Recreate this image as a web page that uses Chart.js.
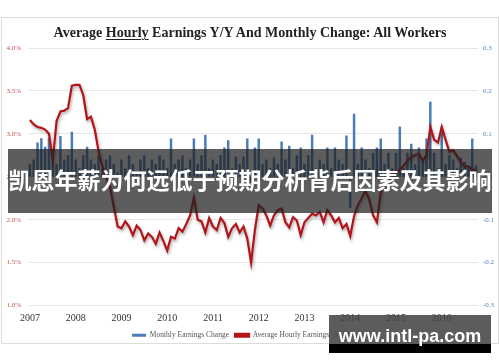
<!DOCTYPE html>
<html>
<head>
<meta charset="utf-8">
<script src="https://cdn.jsdelivr.net/npm/chart.js@4.4.1/dist/chart.umd.min.js"></script>
<style>
  body { margin: 0; background: #fff; }
  #wrap { position: relative; width: 500px; height: 362px; overflow: hidden; }
  #frame { position: absolute; left: 1px; top: 17px; width: 496px; height: 325px; border: 1px solid #dcdcdc; }
  #title { position: absolute; left: 0; top: 25px; width: 500px; text-align: center;
           font: bold 14px "Liberation Serif", serif; color: #222; }
  #title u { text-decoration-thickness: 1px; text-underline-offset: 2px; }
  #banner { position: absolute; left: 8px; top: 149px; width: 484px; height: 64px; background: rgba(30,30,30,0.72); }
  #bannerText { position: absolute; left: 0; top: 162px; width: 500px; text-align: center;
                font: bold 23px "Noto Sans CJK SC", sans-serif; color: #fff; white-space: nowrap; line-height: 34px; }
  #mark { position: absolute; left: 329px; top: 315px; width: 162px; height: 38px; background: rgba(70,70,70,0.88); }
  #markBottom { position: absolute; left: 329px; top: 344px; width: 162px; height: 9px; background: #000; }
  #markText { position: absolute; left: 329px; top: 317px; width: 162px; height: 38px; text-align: center; white-space: nowrap;
              font: bold 18px "Liberation Sans", sans-serif; color: #fff; line-height: 38px; }
  canvas { position: absolute; left: 0; top: 0; }
</style>
</head>
<body>
<div id="wrap">
  <div id="frame"></div>
  <canvas id="earningsChart" width="500" height="362"></canvas>
  <div id="title">Average <u>Hourly</u> Earnings Y/Y And Monthly Change: All Workers</div>
  <div id="banner"></div>
  <div id="bannerText">凯恩年薪为何远低于预期分析背后因素及其影响</div>
  <div id="mark"></div>
  <div id="markBottom"></div>
  <div id="markText">www.intl-pa.com</div>
</div>
<script>
// Years on the axis, months per year
const years = [2007, 2008, 2009, 2010, 2011, 2012, 2013, 2014, 2015, 2016];
const monthNames = ['Jan', 'Feb', 'Mar', 'Apr', 'May', 'Jun', 'Jul', 'Aug', 'Sep', 'Oct', 'Nov', 'Dec'];

// Monthly Earnings Change (right axis, $)
const monthlyChange = [
  0.03, 0.04, 0.08, 0.09, 0.07, 0.09, 0.06, 0.03, 0.095, 0.04, 0.05, 0.105,   // 2007
  0.04, 0.02, 0.05, 0.07, 0.04, 0.03, 0.05, 0.02, 0.04, 0.05, 0.03, 0.01,     // 2008
  0.04, 0.02, 0.05, 0.03, 0.01, 0.04, 0.05, 0.02, 0.04, 0.03, 0.05, 0.04,     // 2009
  0.02, 0.089, 0.03, 0.04, 0.05, 0.02, 0.04, 0.089, 0.03, 0.05, 0.098, 0.02,  // 2010
  0.04, 0.03, 0.05, 0.068, 0.085, 0.02, 0.047, 0.03, 0.047, 0.089, -0.02, 0.068, // 2011
  0.089, 0.03, 0.04, 0.02, 0.045, 0.03, 0.082, 0.04, 0.072, 0.02, 0.05, 0.068,  // 2012
  0.03, 0.05, 0.098, 0.02, 0.04, 0.03, 0.068, 0.02, 0.068, 0.04, 0.03, 0.096,   // 2013
  -0.072, 0.147, 0.03, 0.068, 0.04, 0.02, 0.056, 0.068, 0.089, 0.03, 0.056, 0.02, // 2014
  0.056, 0.117, 0.02, 0.056, 0.077, 0.03, 0.068, 0.04, 0.089, 0.175, 0.056, 0.02, // 2015
  0.117, 0.03, 0.05, 0.04, 0.02, 0.045, 0.035, 0.02, 0.089, 0.026                 // 2016
];

// Average Hourly Earnings Y/Y (left axis, %)
const hourlyYoY = [
  3.16, 3.11, 3.08, 3.07, 3.05, 3.00, 2.70, 3.15, 3.26, 3.27, 3.30, 3.56,   // 2007
  3.57, 3.57, 3.45, 3.17, 3.20, 3.05, 2.80, 2.62, 2.50, 2.38, 2.15, 1.92,   // 2008
  1.90, 1.98, 1.92, 1.82, 1.93, 1.88, 1.76, 1.84, 1.80, 1.72, 1.85, 1.75,   // 2009
  1.64, 1.80, 1.78, 1.90, 1.86, 1.95, 2.05, 2.26, 2.00, 1.98, 1.85, 2.02,   // 2010
  1.92, 1.88, 2.02, 1.96, 1.80, 1.90, 1.95, 1.85, 1.92, 1.78, 1.50, 1.88,   // 2011
  2.17, 2.13, 2.05, 1.93, 2.05, 2.11, 2.13, 1.97, 1.91, 2.03, 1.99, 1.82,   // 2012
  1.97, 2.02, 2.07, 2.05, 2.09, 1.97, 2.11, 2.05, 1.97, 2.02, 1.90, 1.95,   // 2013
  1.81, 2.04, 2.17, 2.25, 2.34, 2.23, 2.05, 1.97, 2.32, 2.46, 2.44, 2.48,   // 2014
  2.55, 2.58, 2.63, 2.69, 2.73, 2.75, 2.77, 2.69, 2.75, 3.08, 2.93, 2.90,   // 2015
  3.08, 2.93, 2.79, 2.81, 2.74, 2.67, 2.62, 2.62, 2.58, 2.58                // 2016
];

// Month labels built from the years list
const labels = [];
years.forEach(function(y) {
  monthNames.forEach(function(m) { labels.push(m + ' ' + y); });
});
labels.length = hourlyYoY.length;

// Soft drop shadow under the red line
const lineShadow = {
  id: 'lineShadow',
  beforeDatasetDraw(chart, args) {
    if (args.meta.type === 'line') {
      const c = chart.ctx;
      c.save();
      c.shadowColor = 'rgba(0,0,0,0.35)';
      c.shadowBlur = 3;
      c.shadowOffsetX = 1;
      c.shadowOffsetY = 2;
    }
  },
  afterDatasetDraw(chart, args) {
    if (args.meta.type === 'line') chart.ctx.restore();
  }
};

const ctx = document.getElementById('earningsChart').getContext('2d');
const earningsChart = new Chart(ctx, {
  data: {
    labels: labels,
    datasets: [{
      type: 'bar',
      label: 'Monthly Earnings Change',
      data: monthlyChange,
      yAxisID: 'y1',
      backgroundColor: '#4a7db6',
      borderWidth: 0,
      barPercentage: 0.65,
      categoryPercentage: 1,
      order: 2
    }, {
      type: 'line',
      label: 'Average Hourly Earnings: All Workers',
      data: hourlyYoY,
      yAxisID: 'y',
      borderColor: '#b3141a',
      backgroundColor: '#b3141a',
      borderWidth: 2.2,
      pointRadius: 0,
      tension: 0,
      order: 1
    }]
  },
  options: {
    responsive: false,
    animation: false,
    layout: { padding: { top: 48, left: 2, right: 0, bottom: 13 } },
    plugins: {
      legend: {
        position: 'bottom',
        labels: {
          boxWidth: 14,
          boxHeight: 3,
          padding: 6,
          color: '#555',
          font: { family: 'Liberation Serif', size: 7.5 },
          sort: (a, b) => a.datasetIndex - b.datasetIndex
        }
      },
      tooltip: { enabled: false }
    },
    scales: {
      x: {
        grid: { display: false, drawTicks: false },
        border: { display: false },
        ticks: {
          autoSkip: false,
          maxRotation: 0,
          padding: 7,
          color: '#333',
          font: { family: 'Liberation Serif', size: 10 },
          callback: function(v, i) { return i % 12 === 0 ? labels[i].slice(4) : ''; }
        },
        afterFit: function(s) { s.height = 20; }
      },
      y: {
        position: 'left',
        min: 1, max: 4,
        grid: { color: '#e6e6e6', drawTicks: false },
        border: { display: false },
        ticks: {
          stepSize: 0.5,
          padding: 7,
          color: '#c0504d',
          font: { family: 'Liberation Serif', size: 7 },
          callback: v => v.toFixed(1) + '%'
        },
        afterFit: function(s) { s.width = 26; }
      },
      y1: {
        position: 'right',
        min: -0.3, max: 0.3,
        grid: { display: false, drawTicks: false },
        border: { display: false },
        ticks: {
          stepSize: 0.1,
          padding: 5,
          color: '#4f81bd',
          font: { family: 'Liberation Serif', size: 7 },
          callback: v => v.toFixed(1)
        },
        afterFit: function(s) { s.width = 22; }
      }
    }
  },
  plugins: [lineShadow]
});
</script>
</body>
</html>
